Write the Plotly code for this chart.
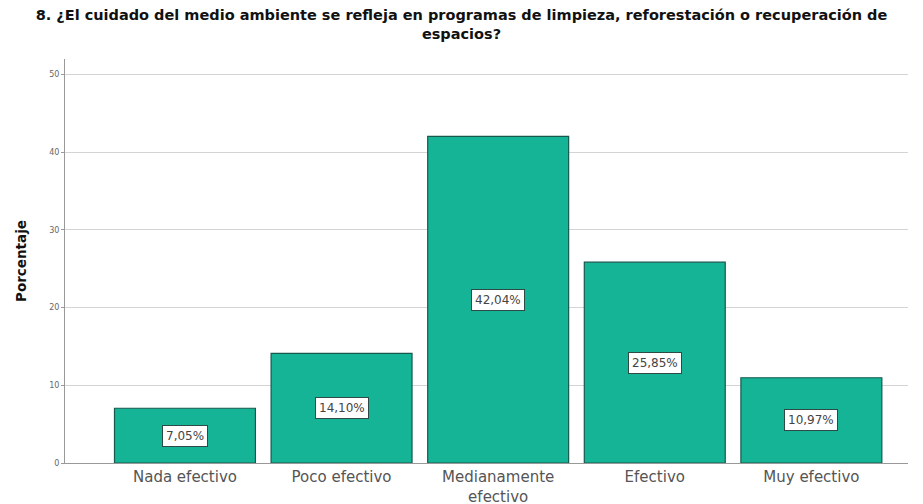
import plotly.graph_objects as go

categories = ["Nada efectivo", "Poco efectivo", "Medianamente<br>efectivo", "Efectivo", "Muy efectivo"]
values = [7.05, 14.10, 42.04, 25.85, 10.97]
value_labels = ["7,05%", "14,10%", "42,04%", "25,85%", "10,97%"]
y_ticks = [0, 10, 20, 30, 40, 50]

fig = go.Figure()
fig.add_trace(go.Bar(
    x=categories, y=values, width=0.9,
    marker=dict(color="#16b496", line=dict(color="#17584d", width=1.2)),
    hoverinfo="skip",
))

for c, v, t in zip(categories, values, value_labels):
    fig.add_annotation(
        x=c, y=v / 2, text=t, showarrow=False,
        font=dict(family="DejaVu Sans", size=12, color="#444"),
        bgcolor="white", bordercolor="#2d4a44", borderwidth=1, borderpad=3,
    )

fig.update_layout(
    width=923, height=504,
    margin=dict(l=65, r=15, t=59, b=41),
    paper_bgcolor="white", plot_bgcolor="white",
    showlegend=False,
    title=dict(
        text="<b>8. ¿El cuidado del medio ambiente se refleja en programas de limpieza, reforestación o recuperación de<br>espacios?</b>",
        x=0.5, xanchor="center", xref="container", yref="container", y=1 - 20 / 504, yanchor="top",
        font=dict(family="DejaVu Sans", size=14.5, color="#111"),
    ),
    xaxis=dict(
        range=[-0.766, 4.617], showgrid=False, showline=True, linecolor="#999",
        automargin=False,
        ticks="", tickfont=dict(family="DejaVu Sans", size=15, color="#555"),
    ),
    yaxis=dict(
        range=[0, 52], tickvals=y_ticks, showgrid=True, gridcolor="#d4d4d4",
        automargin=False,
        showline=True, linecolor="#999", ticks="outside", ticklen=3, tickcolor="#999",
        tickfont=dict(family="DejaVu Sans", size=8, color="#666"),
        zeroline=False,
        title=dict(text="<b>Porcentaje</b>", font=dict(family="DejaVu Sans", size=13.5, color="#111"), standoff=19),
    ),
)

fig.write_html("out.html", config={"displayModeBar": False},
               post_script="document.body.style.margin='0';")
